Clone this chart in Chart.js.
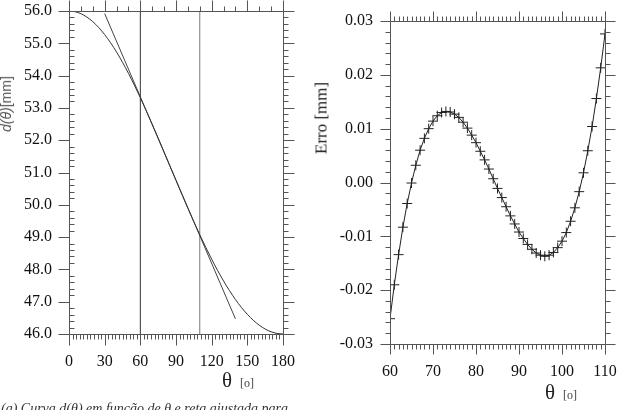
<!DOCTYPE html>
<html><head><meta charset="utf-8">
<script src="https://cdn.jsdelivr.net/npm/chart.js@4.4.0/dist/chart.umd.min.js"></script>
<style>
html,body{margin:0;padding:0;background:#fff;width:619px;height:410px;overflow:hidden;position:relative}
canvas{position:absolute;top:0}
.t{position:absolute;white-space:nowrap;font-family:"Liberation Serif","Times New Roman",serif;color:#222;line-height:1}
.rot{transform:translate(-50%,-50%) rotate(-90deg)}
</style></head><body>
<canvas id="c1" width="310" height="410" style="left:0"></canvas>
<canvas id="c2" width="309" height="410" style="left:310px"></canvas>

<div class="t rot" style="left:6px;top:104px;font-family:'Liberation Sans',Arial,sans-serif;font-size:14px;color:#555"><i>d(θ)</i>[mm]</div>
<div class="t" style="left:222px;top:370px;font-size:21px">θ</div>
<div class="t" style="left:240px;top:377px;font-size:12px;color:#444">[o]</div>
<div class="t rot" style="left:321px;top:118px;font-size:17px">Erro [mm]</div>
<div class="t" style="left:545px;top:382px;font-size:21px">θ</div>
<div class="t" style="left:563px;top:389px;font-size:12px;color:#444">[o]</div>
<div class="t" style="left:1px;top:402px;font-size:14px;font-style:italic;color:#333">(a) Curva <i>d</i>(<i>θ</i>) em função de <i>θ</i> e reta ajustada para</div>

<script>
// ---- left chart data ----
const dTheta = [0,5,10,15,20,25,30,35,40,45,50,55,60,65,70,75,80,85,90,95,100,105,110,115,120,125,130,135,140,145,150,155,160,165,170,175,180];
const dValues = [56.000,55.979,55.917,55.813,55.670,55.488,55.269,55.015,54.729,54.413,54.070,53.703,53.316,52.911,52.493,52.065,51.630,51.192,50.754,50.320,49.894,49.477,49.073,48.685,48.316,47.967,47.642,47.342,47.068,46.824,46.609,46.425,46.273,46.154,46.069,46.017,46.000];
const fitTheta = [30, 140];
const fitValues = [55.919, 46.468];
const markTheta = [60, 110];
const leftXTicks = [0,30,60,90,120,150,180];
const leftYTicks = [46,47,48,49,50,51,52,53,54,55,56];
const leftYLabels = ['46.0','47.0','48.0','49.0','50.0','51.0','52.0','53.0','54.0','55.0','56.0'];

// ---- right chart data ----
const errTheta = [60,61,62,63,64,65,66,67,68,69,70,71,72,73,74,75,76,77,78,79,80,81,82,83,84,85,86,87,88,89,90,91,92,93,94,95,96,97,98,99,100,101,102,103,104,105,106,107,108,109,110];
const errValues = [-0.0253,-0.0190,-0.0134,-0.0083,-0.0039,-0.0001,0.0032,0.0060,0.0082,0.0100,0.0114,0.0124,0.0130,0.0132,0.0131,0.0127,0.0121,0.0112,0.0101,0.0088,0.0074,0.0058,0.0042,0.0025,0.0007,-0.0011,-0.0028,-0.0045,-0.0062,-0.0077,-0.0092,-0.0104,-0.0115,-0.0124,-0.0131,-0.0135,-0.0137,-0.0135,-0.0130,-0.0121,-0.0109,-0.0093,-0.0072,-0.0047,-0.0017,0.0018,0.0059,0.0104,0.0156,0.0213,0.0276];
const rightXTicks = [60,70,80,90,100,110];
const rightYTicks = [-0.03,-0.02,-0.01,0,0.01,0.02,0.03];
const rightYLabels = ['-0.03','-0.02','-0.01','0.00','0.01','0.02','0.03'];

const FONT = {family:"'Liberation Serif','Times New Roman',serif", size:16};

const frameTicks = {
  id: 'frameTicks',
  afterDatasetsDraw(chart, args, o) {
    const {ctx, chartArea: a} = chart;
    const x = chart.scales.x, y = chart.scales.y;
    const r = v => Math.round(v) + 0.5;
    const L = r(a.left), R = r(a.right), T = r(a.top), B = r(a.bottom);
    const seq = (min, max, step) => { const out = []; const n = Math.round((max - min) / step); for (let i = 0; i <= n; i++) out.push(min + i * step); return out; };
    const isMaj = (v, arr) => arr.some(m => Math.abs(m - v) < 1e-7);
    ctx.save();
    ctx.strokeStyle = o.color; ctx.lineWidth = 1;
    ctx.beginPath();
    ctx.moveTo(L, T); ctx.lineTo(R, T); ctx.lineTo(R, B); ctx.lineTo(L, B); ctx.closePath();
    seq(x.min, x.max, o.xMinorBottom).forEach(v => {
      const p = r(x.getPixelForValue(v)); const len = isMaj(v, o.xMajor) ? o.majorLen : o.minorLen;
      ctx.moveTo(p, B); ctx.lineTo(p, B + len);
    });
    seq(x.min, x.max, o.xMinorTop).forEach(v => {
      const p = r(x.getPixelForValue(v)); const len = isMaj(v, o.xMajor) ? o.majorLen : o.minorLen;
      ctx.moveTo(p, T); ctx.lineTo(p, T - len);
    });
    seq(y.min, y.max, o.yMinor).forEach(v => {
      const p = r(y.getPixelForValue(v)); const maj = isMaj(v, o.yMajor); const len = maj ? o.majorLen : o.minorLen;
      if (!maj && o.leftMinorIn) { ctx.moveTo(L, p); ctx.lineTo(L + len, p); }
      else { ctx.moveTo(L, p); ctx.lineTo(L - len, p); }
      ctx.moveTo(R, p); ctx.lineTo(R + len, p);
    });
    ctx.stroke();
    ctx.restore();
  }
};

function axisX(min, max, ticks, h, pad) {
  return {
    type: 'linear', position: 'bottom', min: min, max: max,
    afterBuildTicks: s => { s.ticks = ticks.map(v => ({value: v})); },
    afterFit: s => { s.height = h; s.paddingLeft = 0; s.paddingRight = 0; },
    grid: {display: false, drawTicks: false, tickLength: 0},
    border: {display: false},
    ticks: {font: FONT, color: '#111', padding: pad, maxRotation: 0, autoSkip: false, callback: v => String(v)}
  };
}
function axisY(min, max, ticks, labels, w, pad) {
  return {
    type: 'linear', position: 'left', min: min, max: max,
    afterBuildTicks: s => { s.ticks = ticks.map(v => ({value: v})); },
    afterFit: s => { s.width = w; s.paddingTop = 0; s.paddingBottom = 0; },
    grid: {display: false, drawTicks: false, tickLength: 0},
    border: {display: false},
    ticks: {font: FONT, color: '#111', padding: pad, autoSkip: false,
      callback: (v, i) => labels[i]}
  };
}

new Chart(document.getElementById('c1'), {
  type: 'scatter',
  data: {
    datasets: [
      {data: dTheta.map((t, i) => ({x: t, y: dValues[i]})), showLine: true, borderColor: '#333', borderWidth: 1, pointRadius: 0, cubicInterpolationMode: 'monotone'},
      {data: fitTheta.map((t, i) => ({x: t, y: fitValues[i]})), showLine: true, borderColor: '#444', borderWidth: 1, pointRadius: 0},
      {data: [{x: markTheta[0], y: 46}, {x: markTheta[0], y: 56}], showLine: true, borderColor: '#333', borderWidth: 1, pointRadius: 0},
      {data: [{x: markTheta[1], y: 46}, {x: markTheta[1], y: 56}], showLine: true, borderColor: '#777', borderWidth: 1, pointRadius: 0}
    ]
  },
  options: {
    responsive: false, animation: false, events: [],
    layout: {padding: {left: 0, right: 27, top: 11, bottom: 0}},
    plugins: {legend: {display: false}, tooltip: {enabled: false},
      frameTicks: {color: '#555', xMajor: leftXTicks, xMinorBottom: 3, xMinorTop: 10, yMajor: leftYTicks, yMinor: 0.2, majorLen: 11, minorLen: 5, leftMinorIn: true}},
    scales: {
      x: axisX(0, 180, leftXTicks, 76, 18),
      y: axisY(46, 56, leftYTicks, leftYLabels, 69, 17)
    }
  },
  plugins: [frameTicks]
});

new Chart(document.getElementById('c2'), {
  type: 'scatter',
  data: {
    datasets: [
      {data: errTheta.map((t, i) => ({x: t, y: errValues[i]})), showLine: true, borderColor: '#222', borderWidth: 1,
       pointStyle: 'cross', pointRadius: 5, pointBorderWidth: 1, pointBorderColor: '#222'}
    ]
  },
  options: {
    responsive: false, animation: false, events: [],
    layout: {padding: {left: 0, right: 14, top: 21, bottom: 0}},
    plugins: {legend: {display: false}, tooltip: {enabled: false},
      frameTicks: {color: '#555', xMajor: rightXTicks, xMinorBottom: 1, xMinorTop: 1, yMajor: rightYTicks, yMinor: 0.002, majorLen: 10, minorLen: 5, leftMinorIn: false}},
    scales: {
      x: axisX(60, 110, rightXTicks, 66, 18),
      y: axisY(-0.03, 0.03, rightYTicks, rightYLabels, 80, 17)
    }
  },
  plugins: [frameTicks]
});
</script>
</body></html>
